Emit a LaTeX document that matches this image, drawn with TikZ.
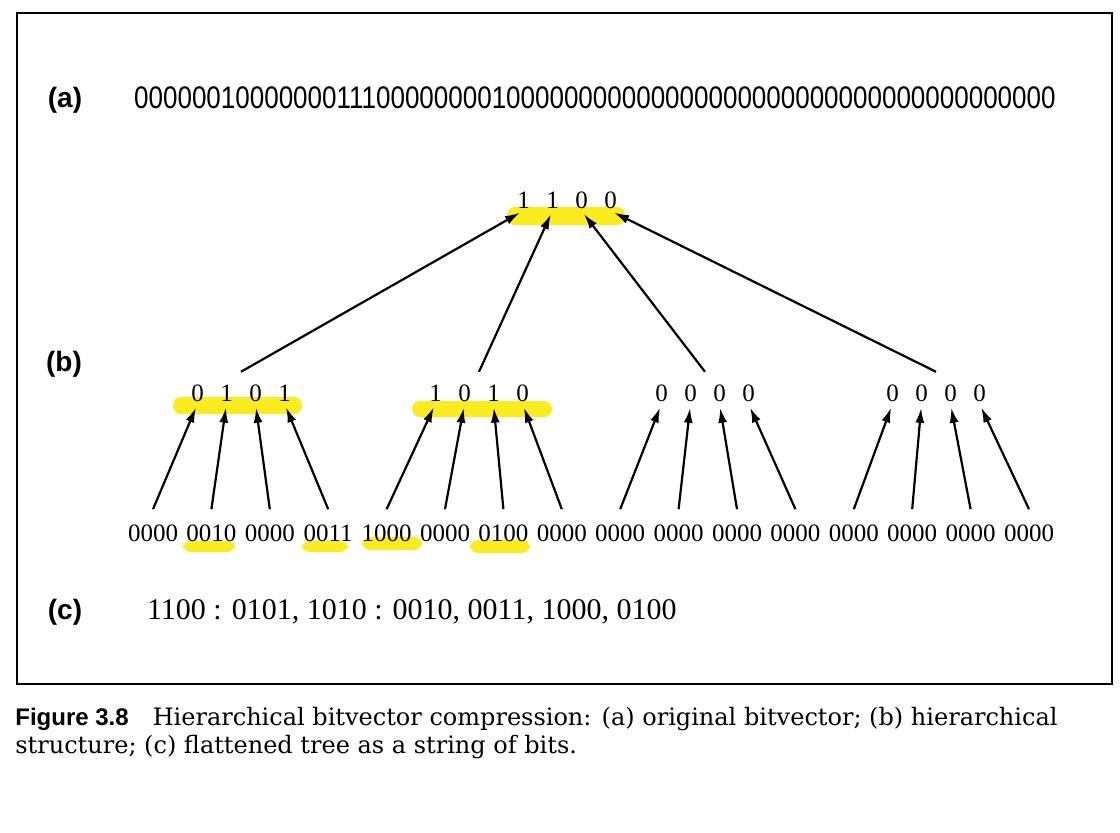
\documentclass[tikz,border=0pt]{standalone}
\usepackage{fontspec}
\setmainfont{Liberation Serif}
\setsansfont{Liberation Sans}
\newfontfamily\capfont{DejaVu Serif}
\usetikzlibrary{arrows.meta,fit}
\definecolor{marker}{RGB}{250,236,30}

\begin{document}
\begin{tikzpicture}[
  x=0.5pt, y=-0.5pt,
  part/.style={font=\sffamily\bfseries\fontsize{14}{14}\selectfont},
  bit/.style={inner sep=1pt, font=\fontsize{12.5}{12.5}\selectfont},
  leaf/.style={inner sep=1pt, font=\fontsize{12.5}{12.5}\selectfont},
  group/.style={inner sep=0pt},
  arr/.style={-{Latex[length=7.5pt,width=4.5pt]}, line width=1.1pt, shorten >=2pt},
  hl/.style={fill=marker, rounded corners=4pt},
]
\useasboundingbox (0,0) rectangle (1120,832);

% marker strokes
\fill[hl] (507,207) rectangle (625,225);
\fill[hl] (173,397) rectangle (302,414);
\fill[hl] (412,401) rectangle (552,417);
\fill[hl] (183,541) rectangle (235,552);
\fill[hl] (302,541) rectangle (348,552);
\fill[hl] (362,537) rectangle (422,550);
\fill[hl] (470,540) rectangle (530,553);

\draw[line width=1.3pt] (17,13) rectangle (1112,684);

\node (pa) [part] at (65,100) {(a)};
\node (pb) [part] at (64,364) {(b)};
\node (pc) [part] at (65,612) {(c)};

\node (bits) [font=\sffamily\fontsize{13}{13}\selectfont] at (595,98)
  {\scalebox{1}[1.2]{0000001000000011100000000100000000000000000000000000000000000000}};

% root
\foreach \v [count=\j] in {1,1,0,0}
  \node (r\j) [bit] at ({567+29*(\j-2.5)},200) {\v};

% second level
\foreach \c/\vs [count=\i] in {241/{0,1,0,1}, 479/{1,0,1,0}, 705/{0,0,0,0}, 936/{0,0,0,0}} {
  \foreach \v [count=\j] in \vs
    \node (g\i-\j) [bit] at ({\c+29*(\j-2.5)},393) {\v};
  \node (g\i) [group, fit=(g\i-1)(g\i-4)] {};
  \draw[arr] ([yshift=5pt]g\i.north) -- (r\i.south);
}

% leaves
\foreach \w [count=\k] in {0000,0010,0000,0011,1000,0000,0100,0000,0000,0000,0000,0000,0000,0000,0000,0000}
  \node (l\k) [leaf] at ({153+58.4*(\k-1)},533) {\w};

\foreach [evaluate={\i=int(floor((\k-1)/4)+1); \j=int(mod(\k-1,4)+1)}] \k in {1,...,16}
  \draw[arr] ([yshift=6.5pt]l\k.north) -- (g\i-\j.south);

\node (flat) [anchor=west, font=\fontsize{15}{15}\selectfont] at (140,612)
  {1100 : 0101, 1010 : 0010, 0011, 1000, 0100};

\node (cap) [anchor=north west, align=left, inner sep=0pt,
  font=\capfont\fontsize{12}{14}\selectfont] at (15,707)
  {{\sffamily\bfseries Figure 3.8}\quad Hierarchical bitvector compression: (a) original bitvector; (b) hierarchical\\
   structure; (c) flattened tree as a string of bits.};
\end{tikzpicture}
\end{document}
